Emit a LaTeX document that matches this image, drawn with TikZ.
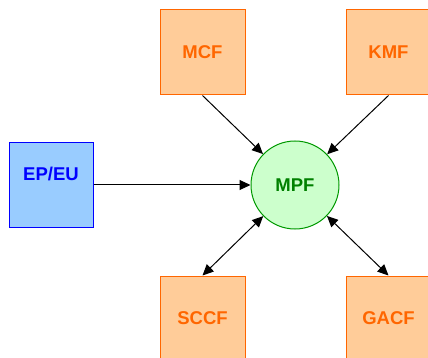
\documentclass[tikz,border=0pt]{standalone}
\usepackage{fontspec}
\setmainfont{Liberation Sans}
\usetikzlibrary{arrows.meta}
\definecolor{unitfill}{HTML}{FFCC99}
\definecolor{unitline}{HTML}{FF6600}
\definecolor{hubfill}{HTML}{CCFFCC}
\definecolor{hubline}{HTML}{009900}
\definecolor{hubtext}{HTML}{008000}
\definecolor{userfill}{HTML}{99CCFF}
\definecolor{userline}{HTML}{0000FF}
\tikzset{
    block/.style = {draw=unitline, fill=unitfill, rectangle,
        line width=1pt, inner sep=0pt,
        minimum size=85pt,
        text=unitline, font=\fontsize{18.5}{22}\selectfont\bfseries},
    user/.style = {draw=userline, fill=userfill, rectangle,
        line width=1pt, inner sep=0pt,
        minimum size=84pt},
    hub/.style = {draw=hubline, fill=hubfill, circle,
        line width=1pt, inner sep=0pt,
        minimum size=88pt,
        text=hubtext, font=\fontsize{18.5}{22}\selectfont\bfseries},
    arrow/.style = {draw, line width=1pt, -{Triangle[length=11pt,width=10pt]}},
    biarrow/.style = {draw, line width=1pt, {Triangle[length=11pt,width=10pt]}-{Triangle[length=11pt,width=10pt]}}
}

\begin{document}
\begin{tikzpicture}[x=1pt, y=-1pt]
                \useasboundingbox (0,0) rectangle (428,358);
                \node[block] (mcf) at (202.5,52.5) {MCF};
                \node[block] (kmf) at (388.5,52.5) {KMF};
                \node[user, label={[text=userline, font=\fontsize{18.5}{22}\selectfont\bfseries, yshift=11pt]center:EP/EU}] (epeu) at (51,185) {};
                \node[hub] (mpf) at (295,185) {MPF};
                \node[block] (sccf) at (202.5,318.5) {SCCF};
                \node[block] (gacf) at (388.5,318.5) {GACF};
                \draw [arrow] (mcf.south) -- (mpf);
                \draw [arrow] (kmf.south) -- (mpf);
                \draw [arrow] (epeu.east) -- (mpf);
                \draw [biarrow] (sccf.north) -- (mpf);
                \draw [biarrow] (gacf.north) -- (mpf);
            \end{tikzpicture}
\end{document}
